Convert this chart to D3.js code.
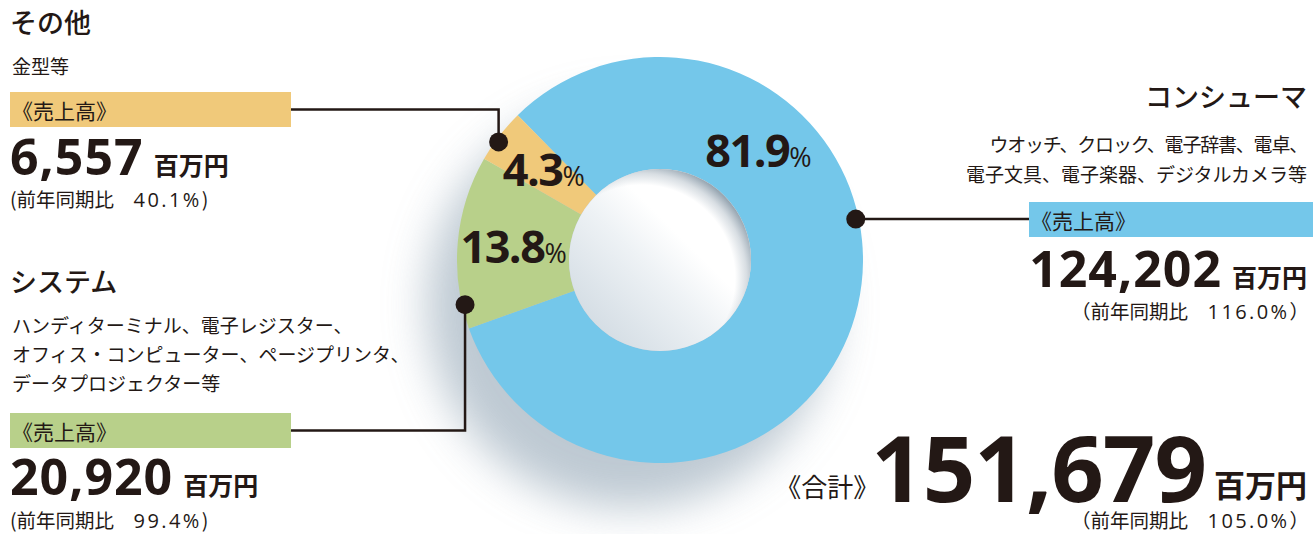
<!DOCTYPE html>
<html><head><meta charset="utf-8">
<script src="https://cdn.jsdelivr.net/npm/d3@7"></script>
<style>
html,body{margin:0;padding:0;background:#fff;}
svg{display:block;}
text{font-family:"Noto Sans CJK JP","Noto Sans",sans-serif;fill:#231815;}
.num{font-family:"Open Sans","Noto Sans",sans-serif;font-weight:700;}
.rnum{font-family:"Open Sans","Noto Sans",sans-serif;font-weight:400;}
</style></head><body>
<svg id="chart" width="1313" height="534"></svg>
<script>
// ---- data ----
const categories = ["コンシューマ", "システム", "その他"];
const sales = [124202, 20920, 6557];
const shares = [81.9, 13.8, 4.3];
const yoy = [116.0, 99.4, 40.1];
const descriptions = [
  ["ウオッチ、クロック、電子辞書、電卓、", "電子文具、電子楽器、デジタルカメラ等"],
  ["ハンディターミナル、電子レジスター、", "オフィス・コンピューター、ページプリンタ、", "データプロジェクター等"],
  ["金型等"]
];
const totalSales = 151679;
const totalYoy = 105.0;
const colors = ["#74c7ea", "#b8d08a", "#f0c97a"];
const unit = "百万円";
const salesLabel = "《売上高》";
const totalLabel = "《合計》";
const yoyLabel = "前年同期比";

// ---- layout ----
const svg = d3.select("#chart");
const cx = 660, cy = 260, R = 203, r0 = 91;
const deg = Math.PI / 180;
const startA = -44.5 * deg;
const fmt = d3.format(",");

const defs = svg.append("defs");
const blur = defs.append("filter").attr("id", "blur").attr("x", "-50%").attr("y", "-50%").attr("width", "200%").attr("height", "200%");
blur.append("feGaussianBlur").attr("stdDeviation", 22);
const g1 = defs.append("linearGradient").attr("id", "holeA").attr("x1", 0).attr("y1", 1).attr("x2", 1).attr("y2", 0);
[[0, "#c9d4dd"], [0.45, "#eef2f5"], [0.62, "#ffffff"], [1, "#ffffff"]].forEach(s => g1.append("stop").attr("offset", s[0]).attr("stop-color", s[1]));
const g2 = defs.append("radialGradient").attr("id", "holeB").attr("cx", 0.4).attr("cy", 0.6).attr("r", 0.64);
[[0, "#8fa0ae", 0], [0.8, "#8fa0ae", 0], [0.9, "#8fa0ae", 0.35], [1, "#7f919f", 0.85]].forEach(s => g2.append("stop").attr("offset", s[0]).attr("stop-color", s[1]).attr("stop-opacity", s[2]));

// shadow
svg.append("circle").attr("cx", cx - 30).attr("cy", cy + 45).attr("r", R)
  .attr("fill", "#a2b2c0").attr("opacity", 0.7).attr("filter", "url(#blur)");

const pie = d3.pie().sort(null).value(d => d).startAngle(startA).endAngle(startA + 2 * Math.PI);
const arcs = pie(sales);
const arc = d3.arc().innerRadius(r0).outerRadius(R);
const gDonut = svg.append("g").attr("transform", `translate(${cx},${cy})`);
gDonut.selectAll("path.slice").data(arcs).join("path").attr("class", "slice")
  .attr("d", arc).attr("fill", (d, i) => colors[i]);
gDonut.append("circle").attr("r", r0).attr("fill", "url(#holeA)");
gDonut.append("circle").attr("r", r0).attr("fill", "url(#holeB)");

// percentage labels
const labelAngles = [42, null, null];
const labelArc = d3.arc().innerRadius((R + r0) / 2).outerRadius((R + r0) / 2);
arcs.forEach((d, i) => {
  let p;
  if (labelAngles[i] !== null) {
    const a = labelAngles[i] * deg, rr = (R + r0) / 2;
    p = [rr * Math.sin(a), -rr * Math.cos(a)];
  } else p = labelArc.centroid(d);
  const t = gDonut.append("text").attr("x", p[0]).attr("y", p[1] + 16).attr("text-anchor", "middle");
  t.append("tspan").attr("class", "num").attr("font-size", 45).attr("letter-spacing", -1.5).text(shares[i].toFixed(1));
  t.append("tspan").attr("font-size", 27).attr("font-family", "Open Sans").text("%");
});

// leaders
const dotAngles = [78.2, -102.9, -53.8];
const dotR = 200;
const dots = dotAngles.map(a => [cx + dotR * Math.sin(a * deg), cy - dotR * Math.cos(a * deg)]);

function yoyText(x, y, anchor, val, full) {
  const t = svg.append("text").attr("x", x).attr("y", y).attr("text-anchor", anchor).attr("font-size", 19.5);
  t.append("tspan").text((full ? "（" : "(") + yoyLabel + "　");
  t.append("tspan").attr("class", "rnum").attr("font-size", 20).attr("letter-spacing", 2.4).text(val.toFixed(1) + "%");
  t.append("tspan").text(full ? "）" : ")");
  return t;
}

// panels: [consumer, system, other]
const panels = [
  { side: "right", x: 1307, title: 107, desc: [152, 182], descSpacing: [-1.2, 0], box: [1029, 202, 284, 35], num: 287, yoy: 319 },
  { side: "left", x: 10, title: 292, desc: [333, 362, 391], descSpacing: [0, 0, 0], box: [10, 413, 281, 35], num: 495, yoy: 528 },
  { side: "left", x: 10, title: 33, desc: [74], descSpacing: [0], box: [10, 92, 281, 35], num: 175, yoy: 207 }
];

panels.forEach((p, i) => {
  const anchor = p.side === "right" ? "end" : "start";
  svg.append("text").attr("x", p.x).attr("y", p.title).attr("text-anchor", anchor)
    .attr("font-size", 27).attr("font-weight", 500).text(categories[i]);
  descriptions[i].forEach((line, k) => {
    svg.append("text").attr("x", p.side === "right" ? p.x : p.x + 2).attr("y", p.desc[k]).attr("text-anchor", anchor)
      .attr("font-size", 19).attr("letter-spacing", p.descSpacing[k]).text(line);
  });
  const [bx, by, bw, bh] = p.box;
  svg.append("rect").attr("x", bx).attr("y", by).attr("width", bw).attr("height", bh).attr("fill", colors[i]);
  svg.append("text").attr("x", bx + 2).attr("y", by + bh - 8).attr("font-size", 21).text(salesLabel);

  const byc = by + bh / 2;
  const d = dots[i];
  const path = p.side === "right" ? `M${d[0]},${d[1]}H${bx}` : `M${bx + bw},${byc}H${d[0]}V${d[1]}`;
  svg.append("path").attr("d", path).attr("fill", "none").attr("stroke", "#231815").attr("stroke-width", 2.5);
  svg.append("circle").attr("cx", d[0]).attr("cy", d[1]).attr("r", 9.5).attr("fill", "#231815");

  const numText = svg.append("text").attr("y", p.num).attr("class", "num").attr("font-size", 50).attr("letter-spacing", 1).text(fmt(sales[i]));
  const unitText = svg.append("text").attr("y", p.num).attr("font-size", 25).attr("font-weight", 700).text(unit);
  const nw = numText.node().getComputedTextLength();
  const uw = unitText.node().getComputedTextLength();
  if (p.side === "right") {
    unitText.attr("x", p.x - uw);
    numText.attr("x", p.x - uw - 10 - nw);
  } else {
    numText.attr("x", p.x);
    unitText.attr("x", p.x + nw + 10);
  }
  yoyText(p.side === "right" ? p.x + 2 : p.x, p.yoy, anchor, yoy[i], p.side === "right");
});

// total
const tUnit = svg.append("text").attr("y", 497).attr("font-size", 31).attr("font-weight", 700).text(unit);
const tNum = svg.append("text").attr("y", 502).attr("class", "num").attr("font-size", 92).attr("letter-spacing", -1).text(fmt(totalSales));
const tLab = svg.append("text").attr("y", 497).attr("font-size", 26).text(totalLabel);
const tuw = tUnit.node().getComputedTextLength();
const tnw = tNum.node().getComputedTextLength();
const tlw = tLab.node().getComputedTextLength();
tUnit.attr("x", 1307 - tuw);
tNum.attr("x", 1307 - tuw - 8 - tnw);
tLab.attr("x", 1307 - tuw - 8 - tnw + 8 - tlw);
yoyText(1309, 528, "end", totalYoy, true);
</script>
</body></html>
